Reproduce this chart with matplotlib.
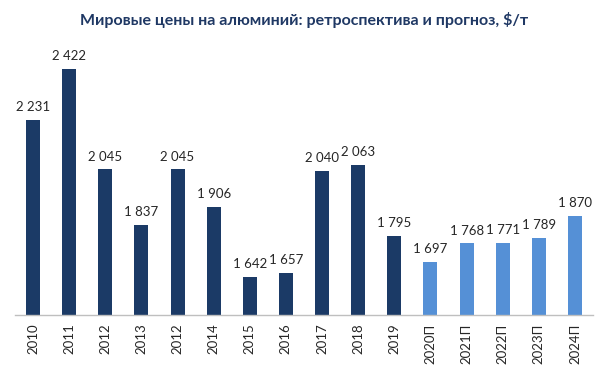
import matplotlib
matplotlib.use("Agg")
import matplotlib.pyplot as plt

categories = ["2010", "2011", "2012", "2013", "2012", "2014", "2015", "2016",
              "2017", "2018", "2019", "2020П", "2021П", "2022П", "2023П", "2024П"]
values = [2231, 2422, 2045, 1837, 2045, 1906, 1642, 1657,
          2040, 2063, 1795, 1697, 1768, 1771, 1789, 1870]
forecast = [False] * 11 + [True] * 5

dark = "#1B3A66"
light = "#5590D6"

plt.rcParams['font.family'] = ['Lato', 'DejaVu Sans']

fig = plt.figure(figsize=(6.08, 3.70), dpi=100)
ax = fig.add_axes([15/608, 1 - 315/370, 578/608, 275/370])

x = list(range(len(categories)))
colors = [light if f else dark for f in forecast]
bars = ax.bar(x, values, width=0.39, color=colors, zorder=2)

for xi, v in zip(x, values):
    ax.annotate(f"{v:,}".replace(",", " "), (xi, v), xytext=(0, 5),
                textcoords="offset points", ha="center", va="bottom",
                fontsize=9.5, color="#262626")

ax.set_xlim(-0.5, len(categories) - 0.5)
ax.set_ylim(1500, 2530)
ax.set_xticks(x)
ax.set_xticklabels(categories, rotation=90, fontsize=9.5, color="#262626")
ax.tick_params(axis="x", length=0, pad=6)
ax.set_yticks([])
for s in ["top", "right", "left"]:
    ax.spines[s].set_visible(False)
ax.spines["bottom"].set_color("#BFBFBF")
ax.spines["bottom"].set_linewidth(1)

fig.text(0.5, 1 - 20/370, "Мировые цены на алюминий: ретроспектива и прогноз, $/т",
         ha="center", va="center", fontsize=11.5, fontweight="bold", color="#1F3864")

fig.savefig("out.png", dpi=100)
